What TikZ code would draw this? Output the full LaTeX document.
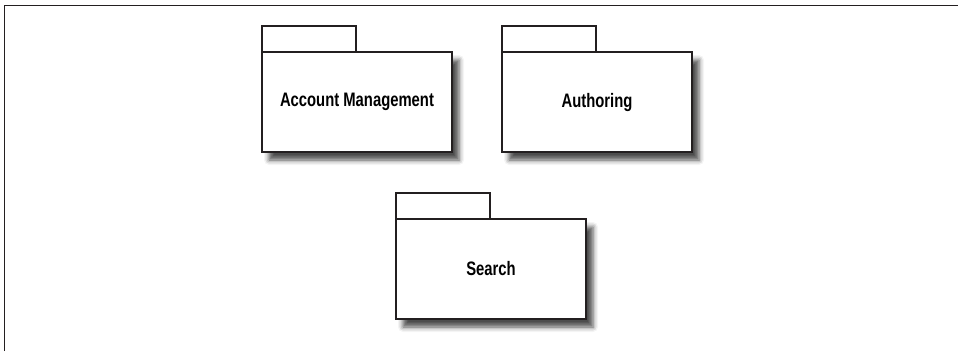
\documentclass[tikz,border=0pt]{standalone}
\usepackage{fontspec}
\newfontfamily\pkgfont[FakeStretch=0.76]{Liberation Sans}
\usepackage{xcolor}
\definecolor{pkgline}{HTML}{231F20}
\usepackage{tikz}
\usetikzlibrary{positioning,shadows.blur}

\begin{document}
\begin{tikzpicture}[
  x=1pt,y=-1pt,
  pkg/.style={draw=pkgline,line width=2.4pt,fill=white,minimum width=190pt,minimum height=100pt,
    inner sep=0pt,outer sep=0pt,font=\pkgfont\bfseries\fontsize{19.5}{22}\selectfont,
    blur shadow={shadow xshift=7pt,shadow yshift=-8pt,shadow blur radius=5pt,shadow opacity=70}},
  pkgtab/.style={draw=pkgline,line width=2.4pt,fill=white,minimum width=94pt,minimum height=26pt,
    inner sep=0pt,outer sep=0pt,anchor=south west}]
\useasboundingbox (0,0) rectangle (958,351);
% frame
\draw[pkgline,line width=1.6pt] (4.5,351) -- (4.5,5.5) -- (958,5.5);
% packages
\node[pkg] (acct) at (357,102) {Account Management};
\node[pkg,right=50pt of acct] (auth) {Authoring};
\node[pkg] (search) at (491,269) {Search};
\foreach \p in {acct,auth,search}
  \node[pkgtab] (\p-tab) at (\p.north west) {};
\end{tikzpicture}
\end{document}
